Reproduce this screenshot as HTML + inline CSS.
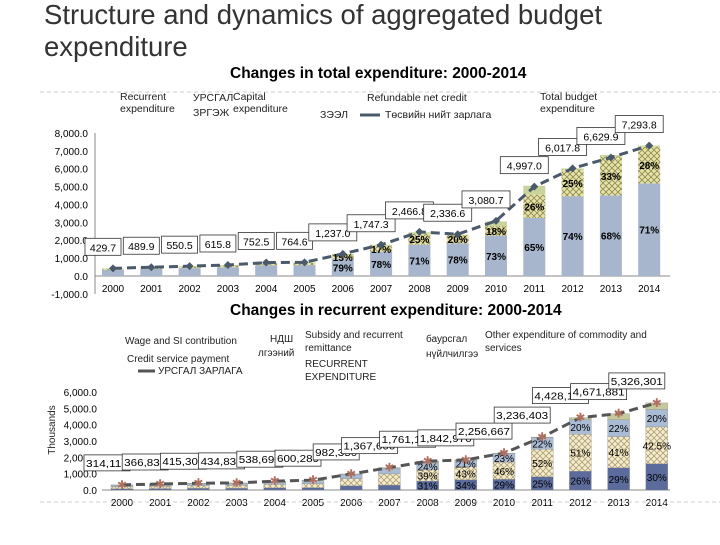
<!DOCTYPE html>
<html><head><meta charset="utf-8"><style>
body{margin:0;width:720px;height:540px;overflow:hidden;background:#fff;font-family:"Liberation Sans","Noto Sans CJK SC",sans-serif}
</style></head><body>
<svg id="s" width="720" height="540" xmlns="http://www.w3.org/2000/svg" font-family="Liberation Sans, Noto Sans CJK SC, sans-serif">
<defs>
<pattern id="hx" width="6" height="6" patternUnits="userSpaceOnUse"><rect width="6" height="6" fill="#e8e2a8"/><path d="M0 0L6 6M6 0L0 6" stroke="#8a8a50" stroke-width="0.8"/></pattern>
<pattern id="hy" width="6" height="6" patternUnits="userSpaceOnUse"><rect width="6" height="6" fill="#f4ecd0"/><path d="M0 0L6 6M6 0L0 6" stroke="#b0a070" stroke-width="0.8"/></pattern>
</defs>
<text x="44" y="24" font-size="27.5" fill="#333">Structure and dynamics of aggregated budget</text>
<text x="44" y="56" font-size="27.5" fill="#333">expenditure</text>
<text x="230" y="78" font-size="15.5" font-weight="bold">Changes in total expenditure: 2000-2014</text>
<line x1="40" y1="92" x2="720" y2="92" stroke="#ccc" stroke-dasharray="4,3"/>
<g font-size="10.5" fill="#222">
<text x="120" y="100">Recurrent</text><text x="120" y="112">expenditure</text>
<text x="193" y="101">УРСГАЛ</text><text x="233" y="100">Capital</text><text x="233" y="112">expenditure</text>
<text x="193" y="116">ЗРГЭЖ</text>
<text x="367" y="101">Refundable net credit</text>
<text x="320" y="118">ЗЭЭЛ</text><line x1="360" y1="115" x2="380" y2="115" stroke="#4a5a6a" stroke-width="3"/><text x="385" y="118">Төсвийн нийт зарлага</text>
<text x="540" y="100">Total budget</text><text x="540" y="112">expenditure</text>
</g>
<g id="top"></g>
<text x="230" y="315" font-size="15.5" font-weight="bold">Changes in recurrent expenditure: 2000-2014</text>
<g font-size="10" fill="#222">
<text x="125" y="344">Wage and SI contribution</text><text x="270" y="342">НДШ</text>
<text x="305" y="338">Subsidy and recurrent</text><text x="305" y="351">remittance</text>
<text x="426" y="342">баурсгал</text>
<text x="485" y="338">Other expenditure of commodity and</text><text x="485" y="351">services</text>
<text x="127" y="362">Credit service payment</text><text x="258" y="356">лгээний</text>
<text x="305" y="367">RECURRENT</text><text x="305" y="380">EXPENDITURE</text>
<text x="426" y="357">нүйлчилгээ</text>
<line x1="138" y1="371" x2="155" y2="371" stroke="#555" stroke-width="3"/><text x="158" y="374">УРСГАЛ ЗАРЛАГА</text>
<text x="55" y="430" font-size="10" transform="rotate(-90 55 430)" text-anchor="middle">Thousands</text>
</g>
<g id="bot"></g>
<line x1="40" y1="502" x2="720" y2="502" stroke="#ccc" stroke-dasharray="4,3"/>
</svg>
<script>
const years=["2000","2001","2002","2003","2004","2005","2006","2007","2008","2009","2010","2011","2012","2013","2014"];
const totalExp=[429.7,489.9,550.5,615.8,752.5,764.6,1237.0,1747.3,2466.8,2336.6,3080.7,4997.0,6017.8,6629.9,7293.8];
const recShare=[80,80,80,80,80,80,79,78,71,78,73,65,74,68,71];
const capShare=[15,15,15,15,15,15,15,17,25,20,18,26,25,33,28];
const credShare=[5,5,5,5,5,5,6,5,3,1,8,10,1,1,1];
const topTicks=[8000,7000,6000,5000,4000,3000,2000,1000,0,-1000];
const recTotal=[314119,366838,415309,434832,538699,600289,982350,1367600,1761190,1842970,2256667,3236403,4428100,4671881,5326301];
const recLabels=["314,119","366,838","415,309","434,832","538,699","600,289","982,350","1,367,600","1,761,190","1,842,970","2,256,667","3,236,403","4,428,100","4,671,881","5,326,301"];
const wageShare=[24,24,24,24,24,24,26,22,31,34,29,25,26,29,30];
const subShare=[40,40,40,40,40,40,45,50,39,43,46,52,51,41,42.5];
const othShare=[30,30,30,30,30,30,26,26,24,21,23,22,20,22,20];
const crdShare=[6,6,6,6,6,6,3,2,6,2,2,1,3,8,7.5];
const botTicks=[6000,5000,4000,3000,2000,1000,0];
const NS="http://www.w3.org/2000/svg";
function mk(p,t,a,txt){const e=document.createElementNS(NS,t);for(const k in a)e.setAttribute(k,a[k]);if(txt!=null)e.textContent=txt;p.appendChild(e);return e;}
// top chart
const T=document.getElementById('top');
const ty=v=>276-v*0.01788, tx=i=>113+i*38.3;
topTicks.forEach(v=>{const e=mk(T,'text',{x:88,y:ty(v)+4,'font-size':10,'text-anchor':'end'},v.toLocaleString('en-US',{minimumFractionDigits:1}));

});
mk(T,'line',{x1:95,y1:ty(0),x2:670,y2:ty(0),stroke:'#888'});
mk(T,'line',{x1:95,y1:ty(8000),x2:95,y2:ty(-1000),stroke:'#888'});
const linePts=[];
years.forEach((y,i)=>{const x=tx(i),w=22,t=totalExp[i];
 const r=t*recShare[i]/100,c=t*capShare[i]/100,d=t*credShare[i]/100;
 const b1=mk(T,'rect',{x:x-w/2,y:ty(r),width:w,height:ty(0)-ty(r),fill:'#a7b6cc'});
 
 
 const b2=mk(T,'rect',{x:x-w/2,y:ty(r+c),width:w,height:ty(r)-ty(r+c),fill:'url(#hx)'});
 
 
 const b3=mk(T,'rect',{x:x-w/2,y:ty(r+c+d),width:w,height:ty(r+c)-ty(r+c+d),fill:'#c8d49a'});
 
 
 const xl=mk(T,'text',{x:x,y:292,'font-size':10,'text-anchor':'middle'},y);
 
 
 if(i>=6){mk(T,'text',{x:x,y:ty(r/2)+4,'font-size':10,'font-weight':'bold','text-anchor':'middle'},recShare[i]+'%');
  mk(T,'text',{x:x,y:ty(r+c/2)+4,'font-size':10,'font-weight':'bold','text-anchor':'middle'},capShare[i]+'%');}
 linePts.push([x,ty(t)]);
});
mk(T,'polyline',{points:linePts.map(p=>p.join(',')).join(' '),fill:'none',stroke:'#4a5a6a','stroke-width':3,'stroke-dasharray':'9,5'});
linePts.forEach((p,i)=>{const m=mk(T,'path',{d:`M${p[0]-4},${p[1]}L${p[0]},${p[1]-4}L${p[0]+4},${p[1]}L${p[0]},${p[1]+4}Z`,fill:'#4a5a6a'});
 
 
 const s=totalExp[i].toLocaleString('en-US',{minimumFractionDigits:1});
 const bw=s.length*6+6,bx=p[0]-bw/2-10,by=p[1]-30;
 mk(T,'rect',{x:bx,y:by,width:bw,height:17,fill:'#fff',stroke:'#333','stroke-width':0.8});
 const l=mk(T,'text',{x:bx+bw/2,y:by+13,'font-size':10.5,'text-anchor':'middle'},s);
 
 });
// bottom chart
const B=document.getElementById('bot');
const by_=v=>490-v/1000*0.01635, bx_=i=>122+i*38.2;
botTicks.forEach(v=>{const e=mk(B,'text',{x:97,y:by_(v*1000)+4,'font-size':10,'text-anchor':'end'},v.toLocaleString('en-US',{minimumFractionDigits:1}));

});
mk(B,'line',{x1:102,y1:by_(0),x2:670,y2:by_(0),stroke:'#888'});
const bp=[];
years.forEach((y,i)=>{const x=bx_(i),w=22,t=recTotal[i];let acc=0;
 [[wageShare,'#5b6b9b','wage-bar'],[subShare,'url(#hy)','subsidy-bar'],[othShare,'#aabbd4','other-goods-bar'],[crdShare,'#c4c89a','credit-service-bar']].forEach(([arr,f,n])=>{
  const v=t*arr[i]/100;const r=mk(B,'rect',{x:x-w/2,y:by_(acc+v),width:w,height:by_(acc)-by_(acc+v),fill:f,stroke:'#888','stroke-width':0.3});
  
  
  if(i>=8&&arr[i]>=15)mk(B,'text',{x:x,y:by_(acc+v/2)+4,'font-size':10,'text-anchor':'middle'},arr[i]+'%');
  acc+=v;});
 const xl=mk(B,'text',{x:x,y:506,'font-size':10,'text-anchor':'middle'},y);
 
 
 bp.push([x,by_(t)]);});
mk(B,'polyline',{points:bp.map(p=>p.join(',')).join(' '),fill:'none',stroke:'#555','stroke-width':3,'stroke-dasharray':'9,5'});
bp.forEach((p,i)=>{const m=mk(B,'text',{x:p[0],y:p[1]+4,'font-size':12,fill:'#b07060','text-anchor':'middle'},'✱');
 
 
 const s=recLabels[i];const bw=Math.min(s.length*6+4,56),bx=p[0]-bw+8,byy=p[1]-30;
 mk(B,'rect',{x:bx,y:byy,width:bw,height:16,fill:'#fff',stroke:'#333','stroke-width':0.8});
 const l=mk(B,'text',{x:bx+2,y:byy+12,'font-size':10,textLength:bw-4,lengthAdjust:'spacingAndGlyphs'},s);
 
 });
</script>
</body></html>
